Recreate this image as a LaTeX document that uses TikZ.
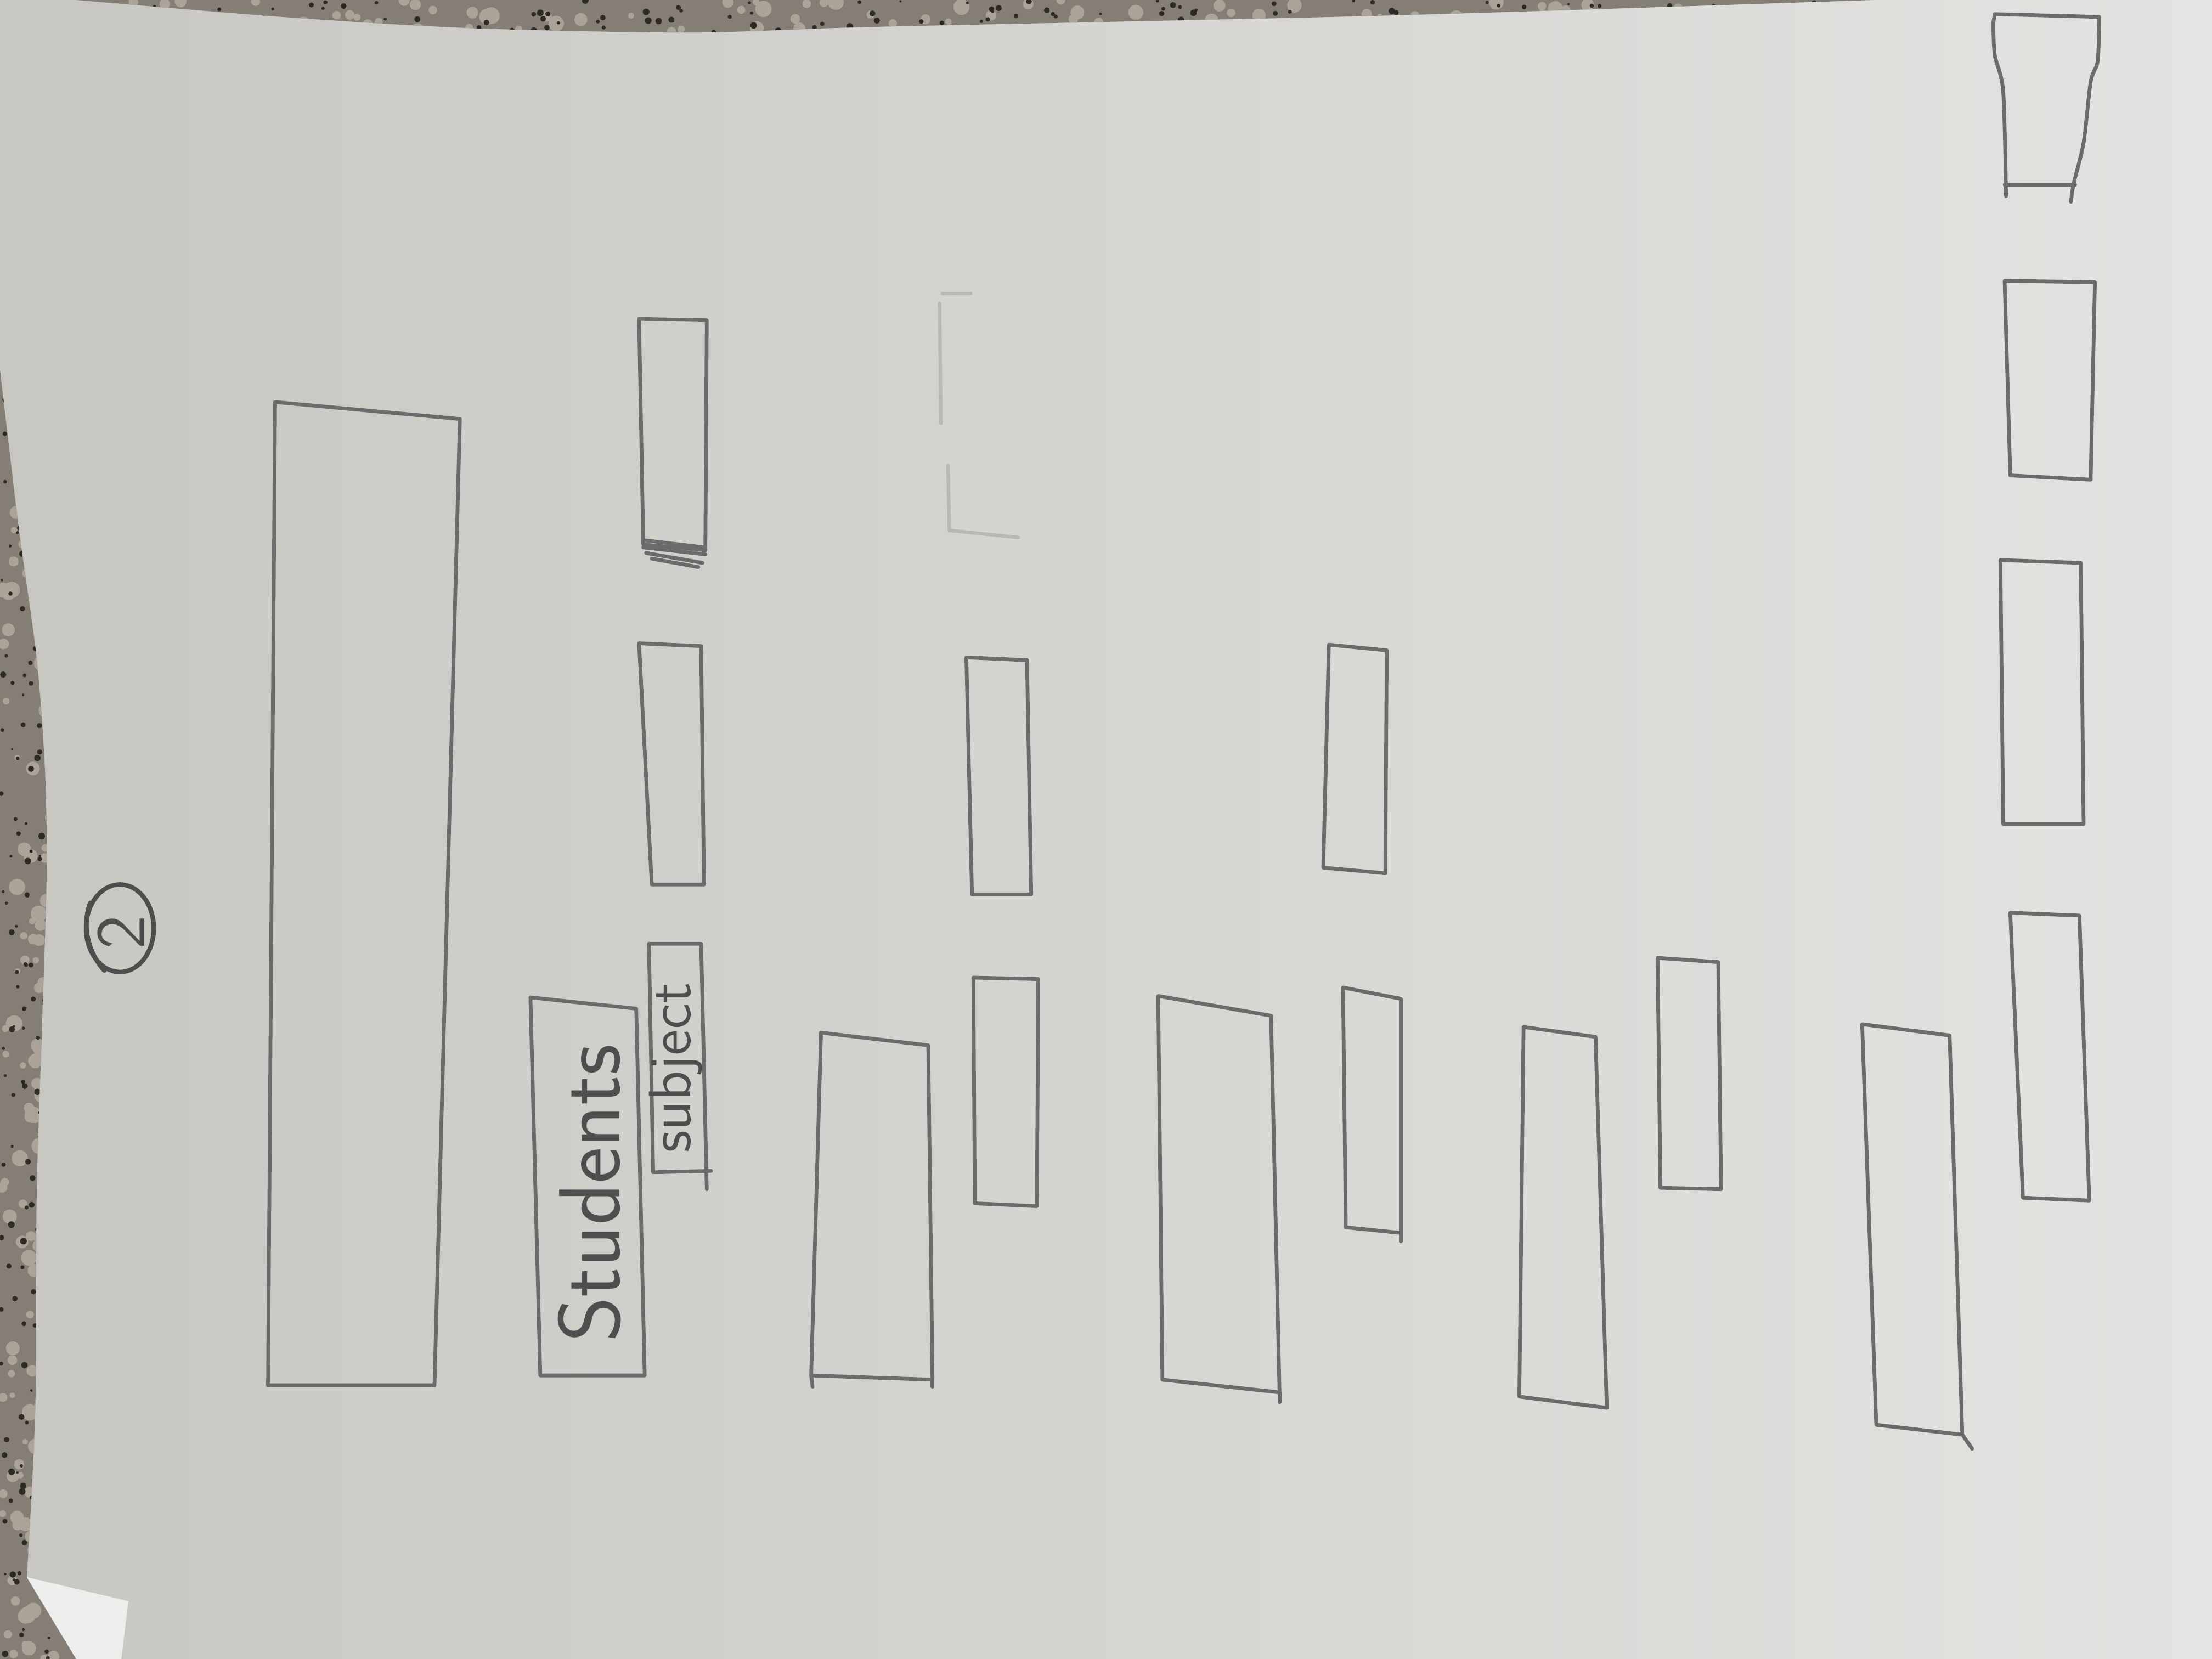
\documentclass[tikz,border=0pt]{standalone}
\definecolor{paperL}{HTML}{C8C6C1}
\definecolor{paperR}{HTML}{E3E3E1}
\definecolor{granite}{HTML}{857E74}
\definecolor{graniteD}{HTML}{2E2A26}
\definecolor{graniteL}{HTML}{ABA398}
\definecolor{foldwhite}{HTML}{EDEDEB}
\definecolor{pencilc}{HTML}{6B6B6B}
\definecolor{inkc}{HTML}{4E4E4E}
\definecolor{faint}{HTML}{B8B7B3}
\tikzset{
 pencil/.style={draw=pencilc, line width=0.75pt, line join=round, line cap=round},
 ink/.style={draw=inkc, line width=0.9pt, line cap=round, line join=round},
 faintline/.style={draw=faint, line width=0.7pt, line cap=round},
 hand/.style={text=inkc, font=\sffamily, inner sep=0pt, rotate=90},
}
\newcommand\pbox[4]{\draw[pencil] (#1) -- (#2) -- (#3) -- (#4) -- cycle;}
\begin{document}
\begin{tikzpicture}[x=0.01cm,y=-0.01cm]
\useasboundingbox (0,0) rectangle (1568,1176);
% paper
\shade[left color=paperL, right color=paperR] (0,0) rectangle (1568,1176);
% countertop (top strip)
\pgfmathsetseed{7}
\begin{scope}
\clip (54,0) -- plot[smooth] coordinates {(54,0) (200,12) (335,20) (491,23) (622,19) (984,11) (1328,0)} -- cycle;
\fill[granite] (0,0) rectangle (1400,30);
\foreach \i in {1,...,120}{\fill[graniteL] (54+rnd*1280, rnd*26) circle[radius=2+rnd*4];}
\foreach \i in {1,...,160}{\fill[graniteD] (54+rnd*1280, rnd*26) circle[radius=0.8+rnd*1.6];}
\end{scope}
% countertop (left strip)
\begin{scope}
\clip (0,262) -- plot[smooth] coordinates {(0,262) (13,372) (26,467) (32,549) (33,622) (30,720) (26,848) (25,999) (19,1118)} -- (54,1176) -- (0,1176) -- cycle;
\fill[granite] (0,250) rectangle (60,1176);
\foreach \i in {1,...,120}{\fill[graniteL] (rnd*40, 262+rnd*914) circle[radius=2+rnd*4];}
\foreach \i in {1,...,160}{\fill[graniteD] (rnd*40, 262+rnd*914) circle[radius=0.8+rnd*1.6];}
\end{scope}
% folded corner
\fill[foldwhite] (19,1118) -- (91,1135) -- (86,1176) -- (54,1176) -- cycle;

% circled page number
\draw[ink] (85,658) ellipse [x radius=24, y radius=31];
\draw[ink] (64,640) .. controls (58,655) and (62,675) .. (74,688);
\node[hand, font=\sffamily\fontsize{14}{14}\selectfont] (pagenum) at (86,661) {2};

% large box
\pbox{195,285}{326,297}{308,982}{190,982}
% Students
\pbox{376,707}{451,715}{457,975}{383,975}
\node[hand, font=\sffamily\fontsize{17.5}{17.5}\selectfont] (students) at (418,846) {Students};
% subject
\draw[pencil] (460,669) -- (497,669) -- (501,843);
\draw[pencil] (460,669) -- (463,831) -- (504,830);
\node[hand, font=\sffamily\fontsize{12}{12}\selectfont] (subject) at (479,757) {subject};

% row of boxes next to the large box
\pbox{453,226}{501,227}{500,390}{456,386}
\draw[pencil] (457,383) -- (499,388);
\draw[pencil] (456,388) -- (500,393);
\draw[pencil] (458,392) -- (498,399);
\draw[pencil] (462,396) -- (495,402);
\pbox{453,456}{497,458}{499,627}{462,627}

% second column
\pbox{582,732}{658,741}{661,978}{575,975}
\draw[pencil] (575,975) -- (576,983);
\draw[pencil] (661,978) -- (661,983);

% third column
\pbox{685,466}{728,468}{731,634}{689,634}
\pbox{690,693}{736,694}{735,855}{691,853}
% faint erased box
\draw[faintline] (668,208) -- (688,208);
\draw[faintline] (666,215) -- (667,300);
\draw[faintline] (672,330) -- (673,376) -- (722,381);

% fourth column
\pbox{821,706}{901,720}{907,987}{824,978}
\draw[pencil] (907,987) -- (907,994);

% fifth column
\pbox{942,457}{983,461}{982,619}{938,615}
\pbox{952,700}{993,708}{993,874}{954,870}
\draw[pencil] (993,874) -- (993,880);

% sixth column
\pbox{1080,728}{1131,735}{1139,998}{1077,990}
\pbox{1175,679}{1218,682}{1220,843}{1177,842}

% seventh column
\pbox{1320,726}{1382,734}{1391,1017}{1330,1010}
\draw[pencil] (1391,1017) -- (1398,1027);

% right column
\draw[pencil] (1422,139) -- plot[smooth] coordinates {(1422,139) (1420,65) (1414,39) (1413,16)} -- (1414,10) -- (1488,12) -- plot[smooth] coordinates {(1488,12) (1487,43) (1482,58) (1477,101) (1470,130) (1468,143)};
\draw[pencil] (1421,131) -- (1471,131);
\pbox{1421,199}{1485,200}{1482,340}{1425,337}
\pbox{1418,397}{1475,399}{1477,584}{1420,584}
\pbox{1425,647}{1474,649}{1481,851}{1434,849}
\end{tikzpicture}
\end{document}
